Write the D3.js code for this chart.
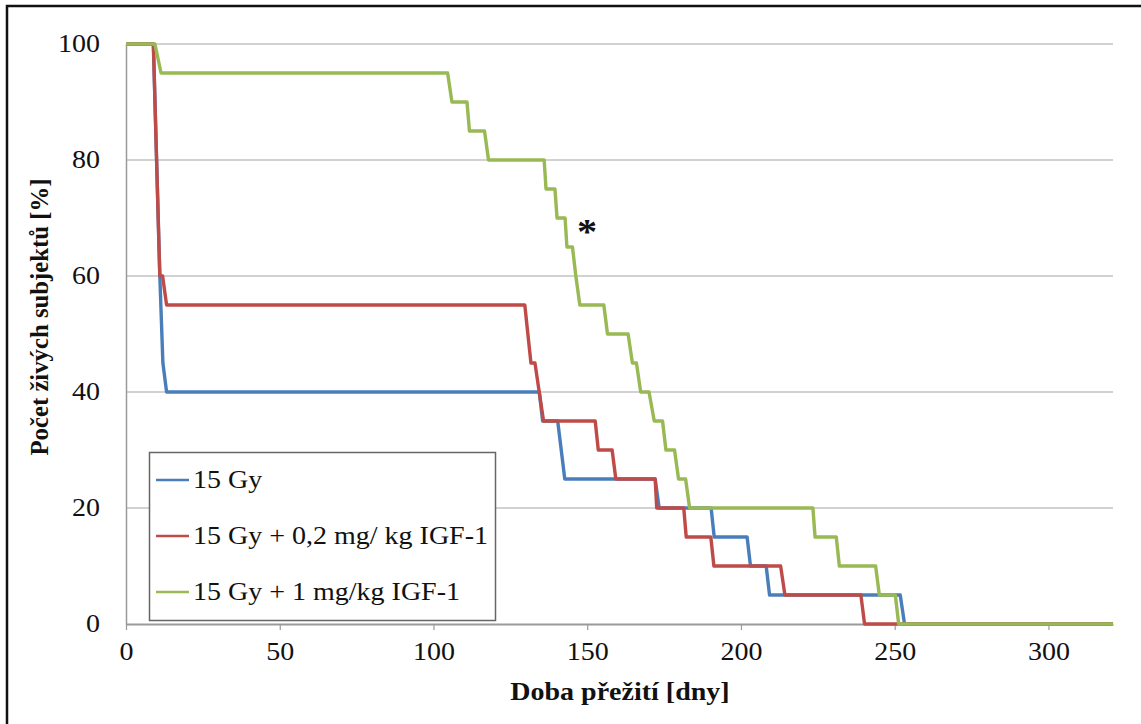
<!DOCTYPE html>
<html>
<head>
<meta charset="utf-8">
<script src="https://cdn.jsdelivr.net/npm/d3@7"></script>
<style>
  html, body { margin: 0; padding: 0; background: #fff; }
  svg { display: block; font-family: "Liberation Serif", "Times New Roman", serif; }
</style>
</head>
<body>
<svg id="chart" width="1141" height="724"></svg>
<script>
// Survival (%) over time (days) for the three treatment groups
const seriesNames = ["15 Gy", "15 Gy + 0,2 mg/ kg IGF-1", "15 Gy + 1 mg/kg IGF-1"];
const seriesColors = ["#4a7ebb", "#be4b48", "#98b954"];

const days15Gy = [0, 8.9, 11, 12, 13.2, 134.4, 135.5, 140.4, 142.7, 172.1, 173.4, 190.3, 191.3, 202, 203.1, 208.2, 209.3, 251.8, 253.2, 321];
const surv15Gy = [100, 100, 60, 45, 40, 40, 35, 35, 25, 25, 20, 20, 15, 15, 10, 10, 5, 5, 0, 0];

const daysIgf02 = [0, 8.9, 11, 11.9, 13.2, 129.7, 131.7, 133, 134.4, 135.8, 152.6, 153.6, 158.1, 159.3, 172.1, 172.6, 181.4, 182.2, 190.2, 191.2, 212.9, 214.3, 239, 240.2, 321];
const survIgf02 = [100, 100, 60, 60, 55, 55, 45, 45, 40, 35, 35, 30, 30, 25, 25, 20, 20, 15, 15, 10, 10, 5, 5, 0, 0];

const daysIgf1 = [0, 9.4, 11.4, 104.6, 106, 110.9, 111.7, 116.6, 117.9, 136, 136.6, 139.5, 140.2, 142.8, 143.4, 145.2, 146.3, 147.6, 155.4, 156.6, 163.3, 164.7, 166, 167.4, 170.1, 171.8, 174.5, 175.6, 178.4, 179.7, 182, 183.3, 223.4, 224.1, 231, 232, 243.8, 245, 250.2, 251.3, 321];
const survIgf1 = [100, 100, 95, 95, 90, 90, 85, 85, 80, 80, 75, 75, 70, 70, 65, 65, 60, 55, 55, 50, 50, 45, 45, 40, 40, 35, 35, 30, 30, 25, 25, 20, 20, 15, 15, 10, 10, 5, 5, 0, 0];

const xTicks = [0, 50, 100, 150, 200, 250, 300];
const yTicks = [0, 20, 40, 60, 80, 100];

const xTitle = "Doba přežití [dny]";
const yTitle = "Počet živých subjektů [%]";
const markText = "*";
const markDay = 150;
const markValue = 65.5;

const series = [
  { name: seriesNames[0], color: seriesColors[0], pts: d3.zip(days15Gy, surv15Gy) },
  { name: seriesNames[1], color: seriesColors[1], pts: d3.zip(daysIgf02, survIgf02) },
  { name: seriesNames[2], color: seriesColors[2], pts: d3.zip(daysIgf1, survIgf1) }
];

const svg = d3.select("#chart");
const plotLeft = 126, plotRight = 1113, plotTop = 44, plotBottom = 624;
const x = d3.scaleLinear().domain([0, 321]).range([plotLeft, plotRight]);
const y = d3.scaleLinear().domain([0, 100]).range([plotBottom, plotTop]);

const FONT = 25;
// horizontal stretch applied to upright text
const STRETCH = 1.12;
function stretch(sel, k) {
  sel.each(function () {
    const w = this.getComputedTextLength();
    d3.select(this).attr("textLength", w * k).attr("lengthAdjust", "spacingAndGlyphs");
  });
}

// outer frame
svg.append("rect")
  .attr("x", 7).attr("y", 6).attr("width", 1150).attr("height", 740)
  .attr("fill", "none").attr("stroke", "#111").attr("stroke-width", 2.5);

// gridlines
svg.append("g")
  .selectAll("line")
  .data(yTicks.filter(d => d > 0))
  .join("line")
  .attr("x1", plotLeft).attr("x2", plotRight)
  .attr("y1", d => y(d)).attr("y2", d => y(d))
  .attr("stroke", "#a6a6a6").attr("stroke-width", 1.2);

// y axis
const yAxis = svg.append("g")
  .attr("transform", `translate(${plotLeft},0)`)
  .call(d3.axisLeft(y).tickValues(yTicks).tickSize(0).tickPadding(26).tickFormat(d3.format("d")));
yAxis.select(".domain").attr("stroke", "#9a9a9a").attr("stroke-width", 1.5);
yAxis.selectAll("text")
  .attr("font-family", "Liberation Serif").attr("font-size", FONT).attr("fill", "#111")
  .attr("dy", "0.3em");

// x axis
const xAxis = svg.append("g")
  .attr("transform", `translate(0,${plotBottom})`)
  .call(d3.axisBottom(x).tickValues(xTicks).tickSize(6).tickPadding(12).tickSizeOuter(0));
xAxis.select(".domain").attr("stroke", "#9a9a9a").attr("stroke-width", 2);
xAxis.selectAll(".tick line").attr("stroke", "#9a9a9a").attr("stroke-width", 1.2);
xAxis.selectAll("text")
  .attr("font-family", "Liberation Serif").attr("font-size", FONT).attr("fill", "#111");

// survival curves
const line = d3.line().x(d => x(d[0])).y(d => y(d[1]));
svg.append("g")
  .selectAll("path")
  .data(series)
  .join("path")
  .attr("d", d => line(d.pts))
  .attr("fill", "none")
  .attr("stroke", d => d.color)
  .attr("stroke-width", 3.4)
  .attr("stroke-linejoin", "round");

// significance mark
svg.append("text")
  .attr("x", x(markDay)).attr("y", y(markValue))
  .attr("text-anchor", "middle")
  .attr("font-size", 36).attr("font-weight", "bold").attr("fill", "#111")
  .text(markText);

// axis titles
svg.append("text")
  .attr("x", 620).attr("y", 700)
  .attr("text-anchor", "middle")
  .attr("font-size", FONT).attr("font-weight", "bold").attr("fill", "#111")
  .text(xTitle);

svg.append("text")
  .attr("transform", "translate(48,317) rotate(-90)")
  .attr("text-anchor", "middle")
  .attr("font-size", FONT).attr("font-weight", "bold").attr("fill", "#111")
  .attr("class", "ytitle")
  .text(yTitle);

// legend
const lg = svg.append("g");
lg.append("rect")
  .attr("x", 149.5).attr("y", 452.5).attr("width", 346).attr("height", 168)
  .attr("fill", "#fff").attr("stroke", "#666").attr("stroke-width", 1.5);
const rows = lg.selectAll("g.row")
  .data(series)
  .join("g")
  .attr("class", "row")
  .attr("transform", (d, i) => `translate(0,${480 + i * 56})`);
rows.append("line")
  .attr("x1", 156).attr("x2", 189).attr("y1", 0).attr("y2", 0)
  .attr("stroke", d => d.color).attr("stroke-width", 2.5);
rows.append("text")
  .attr("x", 193).attr("y", 8)
  .attr("font-size", FONT).attr("fill", "#111")
  .text(d => d.name);

// widen the upright texts; the rotated title is sized along its own axis
stretch(svg.selectAll("text").filter(function () { return !this.classList.contains("ytitle"); }), STRETCH);
svg.selectAll("text.ytitle").attr("textLength", 277).attr("lengthAdjust", "spacingAndGlyphs");
</script>
</body>
</html>
